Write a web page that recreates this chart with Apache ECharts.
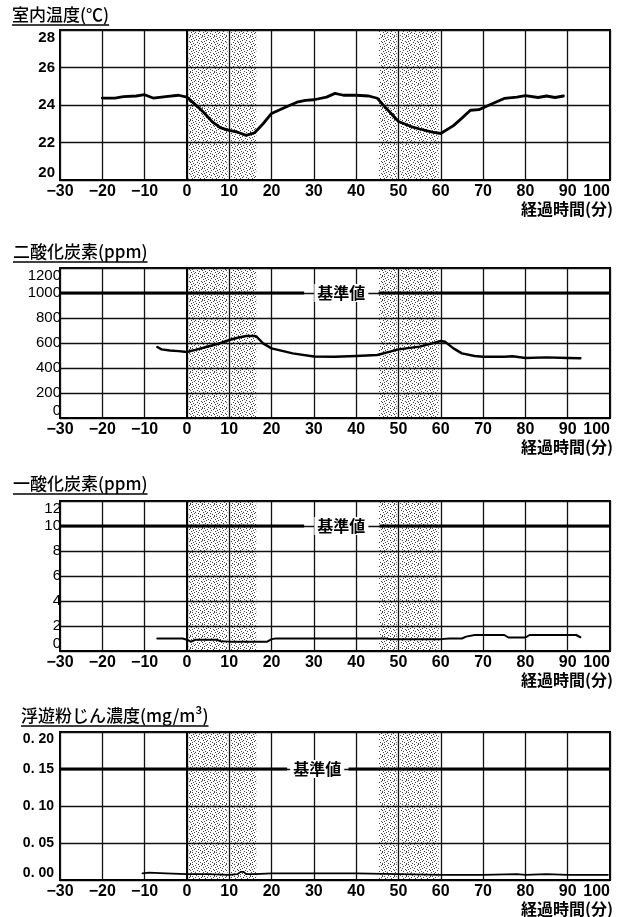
<!DOCTYPE html>
<html>
<head>
<meta charset="utf-8">
<script src="https://cdn.jsdelivr.net/npm/echarts@6/dist/echarts.min.js"></script>
<style>
  html, body { margin: 0; padding: 0; background: #fff; }
  #c { width: 623px; height: 917px; }
</style>
</head>
<body>
<div id="c"></div>
<script>
// ---- shared x axis (elapsed minutes) ----
const xTickLabels = ['−30', '−20', '−10', '0', '10', '20', '30', '40', '50', '60', '70', '80', '90', '100'];
const xAxisName = '経過時間(分)';
// time windows shaded on every panel (minutes)
const shadeBands = [[0.4, 9.6], [10.4, 16.4], [45.4, 49.6], [50.4, 59.5]];

// ---- 室内温度 ----
const tempTitle = '室内温度(℃)';
const tempTicks = ['20', '22', '24', '26', '28'];
const tempTime = [-20, -17, -15, -12, -10, -8, -5, -2, 0, 2, 4, 6, 8, 10, 12, 14, 16, 18, 20, 23, 26, 28, 30, 33, 35, 37, 40, 43, 45, 47, 50, 53, 55, 58, 60, 63, 65, 67, 69, 72, 75, 78, 80, 83, 85, 87, 89];
const tempVal = [24.37, 24.37, 24.45, 24.48, 24.55, 24.37, 24.45, 24.52, 24.42, 24.02, 23.6, 23.1, 22.78, 22.65, 22.55, 22.38, 22.52, 23.0, 23.55, 23.85, 24.15, 24.25, 24.28, 24.42, 24.62, 24.52, 24.52, 24.48, 24.36, 23.85, 23.12, 22.85, 22.72, 22.55, 22.48, 22.9, 23.3, 23.72, 23.75, 24.05, 24.35, 24.42, 24.5, 24.4, 24.48, 24.4, 24.48];

// ---- 二酸化炭素 ----
const co2Title = '二酸化炭素(ppm)';
const co2Ticks = ['0', '200', '400', '600', '800', '1000', '1200'];
const co2Time = [-7, -6, -4, -2, 0, 2, 5, 8, 10, 12, 14, 16, 16.5, 18, 20, 25, 30, 35, 40, 45, 48, 50, 55, 58, 60, 61, 63, 65, 68, 70, 75, 77, 80, 85, 90, 93];
const co2Val = [568, 549, 540, 535, 528, 545, 572, 600, 624, 642, 656, 656, 650, 597, 557, 517, 492, 490, 496, 504, 531, 549, 571, 597, 616, 610, 557, 517, 496, 490, 490, 494, 480, 485, 480, 478];
const co2Limit = 1000;
const co2LimitGap = [27.7, 45.3];
const co2LimitLabelAt = 36.5;

// ---- 一酸化炭素 ----
const coTitle = '一酸化炭素(ppm)';
const coTicks = ['0', '2', '4', '6', '8', '10', '12'];
const coTime = [-7, -1, 0, 1, 2, 7, 8, 10, 15, 19, 20, 21, 25, 30, 40, 47, 48, 55, 60, 62, 65, 66, 68, 72, 75, 76, 80, 81, 85, 90, 92, 93];
const coVal = [1.0, 1.0, 0.9, 0.75, 0.9, 0.9, 0.78, 0.75, 0.75, 0.75, 0.95, 1.0, 1.0, 1.0, 1.0, 1.0, 0.95, 0.95, 0.95, 1.0, 1.0, 1.15, 1.28, 1.28, 1.28, 1.08, 1.08, 1.28, 1.28, 1.28, 1.28, 1.1];
const coLimit = 10;
const coLimitGap = [27.7, 45.5];
const coLimitLabelAt = 36.5;

// ---- 浮遊粉じん濃度 ----
const dustTitle = '浮遊粉じん濃度(mg/m³)';
const dustTicks = ['0. 00', '0. 05', '0. 10', '0. 15', '0. 20'];
const dustTime = [-10.5, -9, -5, 0, 5, 10, 12, 12.7, 13, 13.4, 14, 16, 20, 30, 40, 50, 60, 70, 78, 80, 85, 90, 95, 99.5];
const dustVal = [0.009, 0.010, 0.009, 0.008, 0.008, 0.007, 0.008, 0.011, 0.012, 0.011, 0.008, 0.008, 0.009, 0.009, 0.009, 0.008, 0.007, 0.007, 0.008, 0.007, 0.008, 0.007, 0.007, 0.007];
const dustLimit = 0.15;
const dustLimitGap = [23.7, 38.2];
const dustLimitLabelAt = 30.8;

const limitLabel = '基準値';

// ---------------------------------------------------------------
const NUM_FONT = "'Liberation Sans', Arial, sans-serif";
const JP_FONT = "'Noto Sans CJK JP', sans-serif";

// fine dot screen used for the shaded time windows
function stipple() {
  const rows = [
    '100000100010',
    '000100000100',
    '010000010000',
    '000010000001',
    '001000100000',
    '100000000100',
    '000001000010',
    '010000010000',
    '000100000001',
    '001000100000',
    '100000001000',
    '000010000010'
  ];
  const n = rows.length;
  const c = document.createElement('canvas');
  c.width = n; c.height = n;
  const g = c.getContext('2d');
  g.fillStyle = '#fff';
  g.fillRect(0, 0, n, n);
  g.fillStyle = '#444';
  rows.forEach((r, y) => { for (let x = 0; x < n; x++) if (r[x] === '1') g.fillRect(x, y, 1, 1); });
  return c;
}
const screen = { image: stipple(), repeat: 'repeat' };

const panels = [
  { title: tempTitle, time: tempTime, val: tempVal, min: 20, max: 28, step: 2, ticks: tempTicks,
    yFont: { fontFamily: NUM_FONT, fontWeight: 'bold', fontSize: 15 }, yMargin: 5, lineW: 2.8, limit: null },
  { title: co2Title, time: co2Time, val: co2Val, min: 0, max: 1200, step: 200, ticks: co2Ticks,
    yFont: { fontFamily: NUM_FONT, fontWeight: 'normal', fontSize: 15 }, yMargin: -1, lineW: 2.4,
    limit: co2Limit, gap: co2LimitGap, labelAt: co2LimitLabelAt },
  { title: coTitle, time: coTime, val: coVal, min: 0, max: 12, step: 2, ticks: coTicks,
    yFont: { fontFamily: NUM_FONT, fontWeight: 'normal', fontSize: 15 }, yMargin: -1, lineW: 2.0,
    limit: coLimit, gap: coLimitGap, labelAt: coLimitLabelAt },
  { title: dustTitle, time: dustTime, val: dustVal, min: 0, max: 0.2, step: 0.05, ticks: dustTicks,
    yFont: { fontFamily: NUM_FONT, fontWeight: 'bold', fontSize: 14 }, yMargin: 6, lineW: 1.8,
    limit: dustLimit, gap: dustLimitGap, labelAt: dustLimitLabelAt }
];

const gridBoxes = [
  { top: 30, height: 150 },
  { top: 268, height: 150 },
  { top: 501, height: 150 },
  { top: 732, height: 148 }
];
const titleBoxes = [
  { x: 12, y: 15 },
  { x: 13, y: 252 },
  { x: 13, y: 484 },
  { x: 21, y: 716 }
];

const measure = document.createElement('canvas').getContext('2d');
function textWidth(txt, font) { measure.font = font; return measure.measureText(txt).width; }

const grid = [], xAxis = [], yAxis = [], series = [], graphic = [];

panels.forEach((p, i) => {
  const gb = gridBoxes[i];
  grid.push({ left: 60, right: 13, top: gb.top, height: gb.height, show: true,
    borderColor: '#000', borderWidth: 2, backgroundColor: 'transparent' });

  xAxis.push({
    gridIndex: i, type: 'value', min: -30, max: 100, interval: 10, z: 3,
    axisLine: { show: true, onZero: false, lineStyle: { color: '#000', width: 2 } },
    axisTick: { show: false },
    splitLine: { show: true, lineStyle: { color: '#111', width: 1.3 } },
    axisLabel: {
      color: '#000', fontFamily: NUM_FONT, fontWeight: 'bold', fontSize: 16, margin: 4,
      alignMaxLabel: 'right',
      formatter: v => xTickLabels[Math.round((v + 30) / 10)]
    }
  });

  yAxis.push({
    gridIndex: i, type: 'value', min: p.min, max: p.max, interval: p.step, z: 3,
    axisLine: { show: true, lineStyle: { color: '#000', width: 2 } },
    axisTick: { show: false },
    splitLine: { show: true, lineStyle: { color: '#111', width: 1.3 } },
    axisLabel: Object.assign({
      color: '#000', margin: p.yMargin,
      verticalAlignMaxLabel: 'top', verticalAlignMinLabel: 'bottom',
      formatter: v => p.ticks[Math.round((v - p.min) / p.step)]
    }, p.yFont)
  });

  // shaded windows
  series.push({
    type: 'line', xAxisIndex: i, yAxisIndex: i, data: [], silent: true, z: 1,
    markArea: {
      silent: true, z: 1,
      itemStyle: { color: screen, opacity: 1, borderWidth: 0 },
      data: shadeBands.map(b => [{ xAxis: b[0] }, { xAxis: b[1] }])
    }
  });

  // measured values
  series.push({
    type: 'line', xAxisIndex: i, yAxisIndex: i, z: 5, silent: true,
    symbol: 'none', smooth: false, animation: false,
    lineStyle: { color: '#000', width: p.lineW, join: 'round', cap: 'round' },
    data: p.time.map((t, k) => [t, p.val[k]])
  });

  // reference (limit) value, broken around its label
  if (p.limit !== null) {
    series.push({
      type: 'line', xAxisIndex: i, yAxisIndex: i, z: 5, silent: true,
      symbol: 'none', animation: false, connectNulls: false,
      lineStyle: { color: '#000', width: 3 },
      data: [[-30, p.limit], [p.gap[0], p.limit], [p.labelAt, '-'], [p.gap[1], p.limit], [100, p.limit]],
      markPoint: {
        silent: true, z: 6, symbol: 'rect', symbolSize: 1,
        itemStyle: { color: 'rgba(0,0,0,0)' },
        label: {
          show: true, position: 'inside', formatter: limitLabel, color: '#000',
          fontFamily: JP_FONT, fontWeight: 'bold', fontSize: 16,
          backgroundColor: '#fff', padding: [1, 3]
        },
        data: [{ coord: [p.labelAt, p.limit] }]
      }
    });
  }

  // panel title with underline
  const tb = titleBoxes[i];
  const titleFont = '500 17px ' + JP_FONT;
  const w = textWidth(p.title, titleFont);
  graphic.push({
    type: 'text', x: tb.x, y: tb.y, z: 10,
    style: { text: p.title, font: titleFont, fill: '#000', verticalAlign: 'middle', align: 'left' }
  });
  graphic.push({
    type: 'line', z: 10,
    shape: { x1: tb.x, y1: tb.y + 10, x2: tb.x + w, y2: tb.y + 10 },
    style: { stroke: '#000', lineWidth: 1.5 }
  });

  // axis name under the x labels
  graphic.push({
    type: 'text', x: 613, y: gb.top + gb.height + 29, z: 10,
    style: { text: xAxisName, font: 'bold 16px ' + JP_FONT, fill: '#000', align: 'right', verticalAlign: 'middle' }
  });
});

const chart = echarts.init(document.getElementById('c'), null, { renderer: 'canvas' });
chart.setOption({
  animation: false,
  backgroundColor: '#fff',
  grid, xAxis, yAxis, series, graphic
});
</script>
</body>
</html>
